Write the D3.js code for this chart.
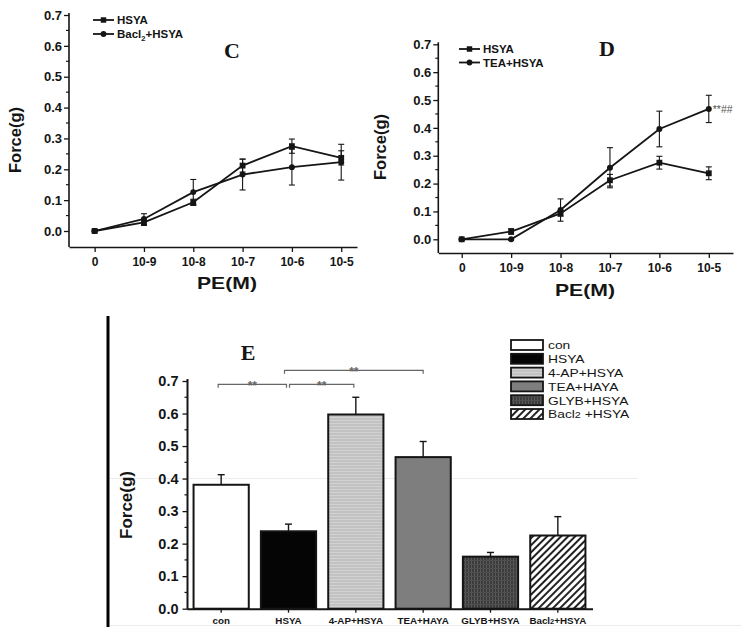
<!DOCTYPE html>
<html><head><meta charset="utf-8">
<script src="https://cdn.jsdelivr.net/npm/d3@7"></script>
<style>
body{margin:0;background:#fff;}
svg{display:block;font-family:"Liberation Sans",Arial,sans-serif;}
</style></head>
<body><svg id="chart" width="741" height="636"></svg>
<script>
// ---- data ----
const peLabels = ["0","10-9","10-8","10-7","10-6","10-5"];
const hsyaMean = [0, 0.028, 0.093, 0.212, 0.275, 0.237];
const hsyaErr  = [0.003, 0.010, 0.010, 0.021, 0.023, 0.023];
const bacl2Mean = [0, 0.039, 0.126, 0.183, 0.207, 0.223];
const bacl2Err  = [0.002, 0.017, 0.041, 0.050, 0.058, 0.058];
const teaMean = [0, 0.000, 0.105, 0.257, 0.396, 0.468];
const teaErr  = [0.002, 0.003, 0.040, 0.072, 0.064, 0.049];
const yTicks = [0,0.1,0.2,0.3,0.4,0.5,0.6,0.7];
const barCats = ["con","HSYA","4-AP+HSYA","TEA+HAYA","GLYB+HSYA","Bacl2+HSYA"];
const barMean = [0.381, 0.238, 0.597, 0.466, 0.160, 0.225];
const barErr  = [0.031, 0.022, 0.053, 0.048, 0.013, 0.058];

const svg = d3.select("#chart");
const defs = svg.append("defs");
// patterns
const pAP = defs.append("pattern").attr("id","pAP").attr("patternUnits","userSpaceOnUse").attr("width",4).attr("height",3);
pAP.append("rect").attr("width",4).attr("height",3).attr("fill","#c2c2c2");
pAP.append("rect").attr("width",4).attr("height",1).attr("fill","#d2d2d2");
const pGL = defs.append("pattern").attr("id","pGL").attr("patternUnits","userSpaceOnUse").attr("width",3).attr("height",4);
pGL.append("rect").attr("width",3).attr("height",4).attr("fill","#3c3c3c");
pGL.append("rect").attr("width",1).attr("height",4).attr("fill","#5a5a5a");
pGL.append("rect").attr("width",3).attr("height",1).attr("fill","#4e4e4e");
const pBA = defs.append("pattern").attr("id","pBA").attr("patternUnits","userSpaceOnUse").attr("width",5).attr("height",5).attr("patternTransform","rotate(45)");
pBA.append("rect").attr("width",5).attr("height",5).attr("fill","#fff");
pBA.append("rect").attr("width",2).attr("height",5).attr("fill","#222");
const barFills = ["#ffffff","#050505","url(#pAP)","#7e7e7e","url(#pGL)","url(#pBA)"];

const INK = "#151515";
const FONT = "'Liberation Sans',Arial,sans-serif";

function lineChart(o){
  const g = svg.append("g");
  const x = d3.scaleLinear().domain(o.xDom).range(o.xRange);
  const y = d3.scaleLinear().domain([0,0.7]).range(o.yRange);
  // axes
  const ya = d3.axisLeft(y).tickValues(yTicks).tickFormat(d3.format(".1f")).tickSize(5).tickSizeOuter(0);
  const yg = g.append("g").attr("transform",`translate(${o.xRange[0]},0)`).call(ya);
  yg.select(".domain").remove();
  g.append("line").attr("x1",o.xRange[0]).attr("x2",o.xRange[0]).attr("y1",o.yRange[1]-2).attr("y2",o.axisY).attr("stroke",INK).attr("stroke-width",1.6);
  yg.selectAll("line").attr("stroke",INK).attr("stroke-width",1.3);
  yg.selectAll("text").attr("font-size",13).attr("font-weight","bold").attr("font-family",FONT).attr("fill",INK).attr("x",-7);
  // minor ticks
  g.selectAll(".mn").data(yTicks.slice(0,-1).map(v=>v+0.05)).join("line")
    .attr("x1",o.xRange[0]).attr("x2",o.xRange[0]-3).attr("y1",d=>y(d)).attr("y2",d=>y(d)).attr("stroke",INK).attr("stroke-width",1.2);
  const xa = d3.axisBottom(x).tickValues(d3.range(peLabels.length)).tickFormat(i=>peLabels[i]).tickSize(5).tickSizeOuter(0);
  const xg = g.append("g").attr("transform",`translate(0,${o.axisY})`).call(xa);
  xg.select(".domain").attr("stroke",INK).attr("stroke-width",1.6);
  xg.selectAll("line").attr("stroke",INK).attr("stroke-width",1.3);
  xg.selectAll("text").attr("font-size",12).attr("font-weight","bold").attr("font-family",FONT).attr("fill",INK).attr("dy","0.95em");
  // titles
  g.append("text").attr("transform",`translate(${o.yTitle[0]},${o.yTitle[1]}) rotate(-90)`).attr("text-anchor","middle")
    .attr("font-size",16.5).attr("font-weight","bold").attr("fill",INK).text("Force(g)");
  g.append("text").attr("x",o.xTitle[0]).attr("y",o.xTitle[1]).attr("text-anchor","middle")
    .attr("font-size",17).attr("font-weight","bold").attr("fill",INK).attr("textLength",60).attr("lengthAdjust","spacingAndGlyphs").text("PE(M)");
  g.append("text").attr("x",o.letter[0]).attr("y",o.letter[1]).attr("text-anchor","middle")
    .attr("font-family","'Liberation Serif','Times New Roman',serif").attr("font-size",22).attr("font-weight","bold").attr("fill",INK).text(o.letterText);
  // series
  o.series.forEach(s=>{
    const data = s.mean.map((m,i)=>({i,m,e:s.err[i]}));
    g.append("path").datum(data).attr("fill","none").attr("stroke",INK).attr("stroke-width",1.8)
      .attr("d",d3.line().x(d=>x(d.i)).y(d=>y(d.m)));
    const eb = g.append("g").selectAll("g").data(data).join("g");
    eb.append("line").attr("x1",d=>x(d.i)).attr("x2",d=>x(d.i)).attr("y1",d=>y(d.m-d.e)).attr("y2",d=>y(d.m+d.e)).attr("stroke",INK).attr("stroke-width",1.1);
    eb.append("line").attr("x1",d=>x(d.i)-3).attr("x2",d=>x(d.i)+3).attr("y1",d=>y(d.m+d.e)).attr("y2",d=>y(d.m+d.e)).attr("stroke",INK).attr("stroke-width",1.1);
    eb.append("line").attr("x1",d=>x(d.i)-3).attr("x2",d=>x(d.i)+3).attr("y1",d=>y(d.m-d.e)).attr("y2",d=>y(d.m-d.e)).attr("stroke",INK).attr("stroke-width",1.1);
    const sym = d3.symbol().type(s.shape==="square"?d3.symbolSquare:d3.symbolCircle).size(s.shape==="square"?34:28);
    g.append("g").selectAll("path").data(data).join("path").attr("transform",d=>`translate(${x(d.i)},${y(d.m)})`).attr("d",sym).attr("fill",INK);
  });
  // legend
  o.series.forEach((s,k)=>{
    const ly = o.legend[1] + k*o.legendStep;
    g.append("line").attr("x1",o.legend[0]).attr("x2",o.legend[0]+21).attr("y1",ly).attr("y2",ly).attr("stroke",INK).attr("stroke-width",1.8);
    const sym = d3.symbol().type(s.shape==="square"?d3.symbolSquare:d3.symbolCircle).size(s.shape==="square"?30:26);
    g.append("path").attr("transform",`translate(${o.legend[0]+10.5},${ly})`).attr("d",sym).attr("fill",INK);
    const t = g.append("text").attr("x",o.legend[0]+24).attr("y",ly+4).attr("font-size",11.5).attr("font-weight","bold").attr("fill",INK);
    if (s.name.indexOf("Bacl2")===0){
      t.append("tspan").text("Bacl");
      t.append("tspan").attr("font-size",7.5).attr("dy",3).text("2");
      t.append("tspan").attr("dy",-3).text(s.name.slice(5));
    } else t.text(s.name);
  });
  return {x,y,g};
}

lineChart({xDom:[-0.52,5.32], xRange:[69,357], yRange:[231,15], axisY:247,
  yTitle:[21,140], xTitle:[227,289], letter:[232,58], letterText:"C",
  legend:[93,20], legendStep:14,
  series:[{name:"HSYA",mean:hsyaMean,err:hsyaErr,shape:"square"},{name:"Bacl2+HSYA",mean:bacl2Mean,err:bacl2Err,shape:"circle"}]});

const D = lineChart({xDom:[-0.474,5.49], xRange:[438.3,733], yRange:[239.3,44.3], axisY:253,
  yTitle:[386,147], xTitle:[585,296], letter:[607,56], letterText:"D",
  legend:[459,49], legendStep:13.5,
  series:[{name:"HSYA",mean:hsyaMean,err:hsyaErr,shape:"square"},{name:"TEA+HSYA",mean:teaMean,err:teaErr,shape:"circle"}]});
D.g.append("text").attr("x",D.x(5)+4).attr("y",D.y(teaMean[5])+4).attr("font-size",10.5).attr("fill","#555").text("**##");

// ---- panel E ----
const gE = svg.append("g");
// faint artifacts
gE.append("line").attr("x1",110).attr("x2",638).attr("y1",478.5).attr("y2",478.5).attr("stroke","#ececec").attr("stroke-width",1);
gE.append("line").attr("x1",110).attr("x2",741).attr("y1",625.5).attr("y2",625.5).attr("stroke","#ececec").attr("stroke-width",1);
gE.append("line").attr("x1",108).attr("x2",108).attr("y1",316).attr("y2",627).attr("stroke","#000").attr("stroke-width",3);

const xb = d3.scaleBand().domain(barCats).range([187.5,591.5]).paddingInner(0.18).paddingOuter(0.09);
const yb = d3.scaleLinear().domain([0,0.7]).range([608.7,381]);
const yaE = d3.axisLeft(yb).tickValues(yTicks).tickFormat(d3.format(".1f")).tickSize(5).tickSizeOuter(0);
const ygE = gE.append("g").attr("transform","translate(187.5,0)").call(yaE);
ygE.select(".domain").remove();
ygE.selectAll("line").attr("stroke",INK).attr("stroke-width",1.3);
ygE.selectAll("text").attr("font-size",14.5).attr("font-weight","bold").attr("fill",INK).attr("x",-9);
gE.selectAll(".mnE").data(yTicks.slice(0,-1).map(v=>v+0.05)).join("line")
  .attr("x1",187.5).attr("x2",184.5).attr("y1",d=>yb(d)).attr("y2",d=>yb(d)).attr("stroke",INK).attr("stroke-width",1.2);
gE.append("line").attr("x1",187.5).attr("x2",187.5).attr("y1",379).attr("y2",609.5).attr("stroke",INK).attr("stroke-width",2);

// bars
gE.selectAll(".bar").data(barCats).join("rect")
  .attr("x",d=>xb(d)).attr("width",xb.bandwidth())
  .attr("y",(d,i)=>yb(barMean[i])).attr("height",(d,i)=>yb(0)-yb(barMean[i]))
  .attr("fill",(d,i)=>barFills[i]).attr("stroke",INK).attr("stroke-width",2);
// error bars (upper)
gE.selectAll(".eb").data(barCats).join("line")
  .attr("x1",d=>xb(d)+xb.bandwidth()/2).attr("x2",d=>xb(d)+xb.bandwidth()/2)
  .attr("y1",(d,i)=>yb(barMean[i])).attr("y2",(d,i)=>yb(barMean[i]+barErr[i])).attr("stroke",INK).attr("stroke-width",1.4);
gE.selectAll(".ec").data(barCats).join("line")
  .attr("x1",d=>xb(d)+xb.bandwidth()/2-3.5).attr("x2",d=>xb(d)+xb.bandwidth()/2+3.5)
  .attr("y1",(d,i)=>yb(barMean[i]+barErr[i])).attr("y2",(d,i)=>yb(barMean[i]+barErr[i])).attr("stroke",INK).attr("stroke-width",1.4);
// x axis
const xaE = d3.axisBottom(xb).tickSize(4).tickSizeOuter(0).tickFormat(()=> "");
const xgE = gE.append("g").attr("transform","translate(0,608.7)").call(xaE);
xgE.select(".domain").attr("stroke",INK).attr("stroke-width",2).attr("d","M187.5,0.5H593");
xgE.selectAll("line").attr("stroke",INK).attr("stroke-width",1.3);
xgE.selectAll(".tick").each(function(d){
  const t = d3.select(this).append("text").attr("y",15.5).attr("text-anchor","middle").attr("font-size",9.8).attr("font-weight","bold").attr("fill",INK);
  if (d.indexOf("Bacl2")===0){
    t.append("tspan").text("Bacl");
    t.append("tspan").attr("font-size",7.5).text("2");
    t.append("tspan").text(d.slice(5));
  } else t.text(d);
});
gE.append("text").attr("transform","translate(132,505) rotate(-90)").attr("text-anchor","middle")
  .attr("font-size",17).attr("font-weight","bold").attr("fill",INK).text("Force(g)");
gE.append("text").attr("x",248).attr("y",360).attr("text-anchor","middle")
  .attr("font-family","'Liberation Serif','Times New Roman',serif").attr("font-size",22).attr("font-weight","bold").attr("fill",INK).text("E");

// significance brackets
const cx = c => xb(c)+xb.bandwidth()/2;
const brackets = [["con","HSYA",384.3],["HSYA","4-AP+HSYA",384.3],["HSYA","TEA+HAYA",370.3]];
brackets.forEach(([a,b,yy],k)=>{
  const x1 = cx(a)-(k===0?3:(k===1?-1:4)), x2 = cx(b)-(k===2?0:2);
  gE.append("path").attr("d",`M${x1},${yy+3.5}V${yy}H${x2}V${yy+3.5}`).attr("fill","none").attr("stroke","#666").attr("stroke-width",1.2);
  gE.append("text").attr("x",(x1+x2)/2).attr("y",yy+5.5).attr("text-anchor","middle").attr("font-size",12).attr("font-weight","bold").attr("fill","#666").text("**");
});

// legend
const legendNames = ["con","HSYA","4-AP+HSYA","TEA+HAYA","GLYB+HSYA","Bacl2 +HSYA"];
legendNames.forEach((n,i)=>{
  const ly = 345 + i*13.8;
  gE.append("rect").attr("x",511).attr("y",ly-5).attr("width",32).attr("height",10).attr("fill",barFills[i]).attr("stroke",INK).attr("stroke-width",1.8);
  const t = gE.append("text").attr("x",548).attr("y",ly+4.3).attr("font-size",11.5).attr("fill",INK);
  if (n.indexOf("Bacl2")===0){
    t.append("tspan").text("Bacl");
    t.append("tspan").attr("font-size",9).text("2");
    t.append("tspan").text(n.slice(5));
  } else t.text(n);
  const len = t.node().getComputedTextLength();
  t.attr("textLength",len*1.2).attr("lengthAdjust","spacingAndGlyphs");
});
</script></body></html>
